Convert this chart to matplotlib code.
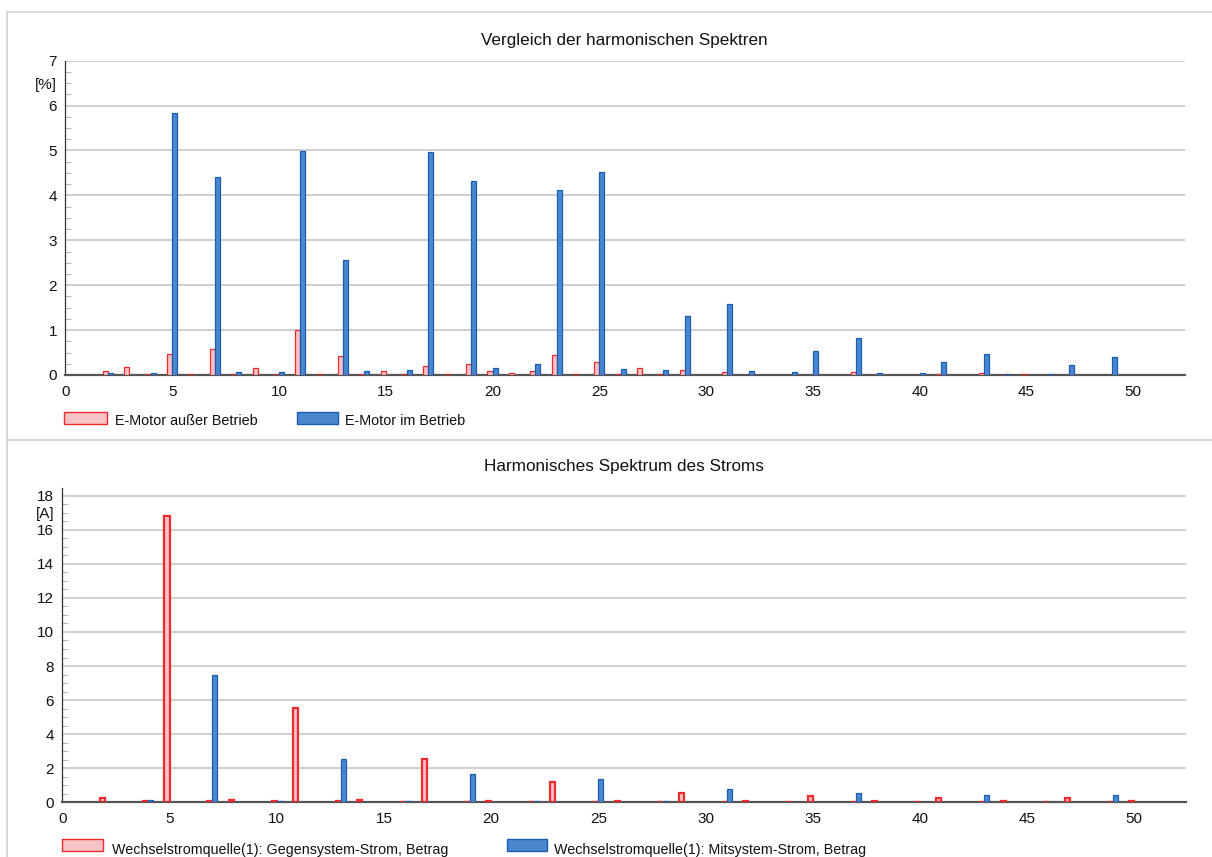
import matplotlib
matplotlib.use('Agg')
import matplotlib.pyplot as plt
import numpy as np
from matplotlib.patches import Rectangle
from matplotlib.lines import Line2D

plt.rcParams['font.family'] = ['Liberation Sans', 'DejaVu Sans']

# ---------------- data ----------------
harmonics = list(range(2, 51))

# top chart: THD comparison [%]
motor_off = [0.09, 0.17, 0.03, 0.46, 0.02, 0.59, 0.03, 0.16, 0.03, 1.01,
             0.02, 0.42, 0.02, 0.10, 0.02, 0.20, 0.015, 0.24, 0.09, 0.05,
             0.09, 0.44, 0.02, 0.29, 0.02, 0.16, 0.02, 0.11, 0.01, 0.07,
             0.01, 0.01, 0.01, 0.01, 0.01, 0.07, 0.01, 0.01, 0.01, 0.02,
             0.01, 0.04, 0.01, 0.02, 0.01, 0.01, 0.01, 0.01, 0.01]
motor_on = [0.04, 0.0, 0.04, 5.84, 0.0, 4.42, 0.07, 0.0, 0.07, 4.99,
            0.0, 2.57, 0.10, 0.0, 0.11, 4.96, 0.0, 4.33, 0.16, 0.0,
            0.24, 4.11, 0.0, 4.53, 0.14, 0.0, 0.11, 1.31, 0.0, 1.59,
            0.08, 0.0, 0.07, 0.53, 0.0, 0.83, 0.04, 0.0, 0.04, 0.30,
            0.0, 0.47, 0.03, 0.0, 0.03, 0.23, 0.0, 0.40, 0.01]

# bottom chart: current spectrum [A]
neg_seq = [0.25, 0.0, 0.08, 16.82, 0.0, 0.05, 0.14, 0.0, 0.05, 5.52,
           0.0, 0.05, 0.12, 0.0, 0.04, 2.53, 0.0, 0.04, 0.10, 0.0,
           0.04, 1.22, 0.0, 0.04, 0.08, 0.0, 0.03, 0.57, 0.0, 0.04,
           0.08, 0.0, 0.04, 0.35, 0.0, 0.03, 0.07, 0.0, 0.04, 0.27,
           0.0, 0.03, 0.07, 0.0, 0.03, 0.25, 0.0, 0.04, 0.07]
pos_seq = [0.02, 0.0, 0.14, 0.02, 0.0, 7.50, 0.02, 0.0, 0.10, 0.02,
           0.0, 2.55, 0.02, 0.0, 0.06, 0.02, 0.0, 1.67, 0.02, 0.0,
           0.06, 0.02, 0.0, 1.35, 0.02, 0.0, 0.05, 0.02, 0.0, 0.76,
           0.02, 0.0, 0.04, 0.02, 0.0, 0.55, 0.02, 0.0, 0.03, 0.02,
           0.0, 0.45, 0.02, 0.0, 0.03, 0.02, 0.0, 0.43, 0.02]

title_top = "Vergleich der harmonischen Spektren"
title_bot = "Harmonisches Spektrum des Stroms"
legend_top = ["E-Motor außer Betrieb", "E-Motor im Betrieb"]
legend_bot = ["Wechselstromquelle(1): Gegensystem-Strom, Betrag",
              "Wechselstromquelle(1): Mitsystem-Strom, Betrag"]
x_ticks = [0, 5, 10, 15, 20, 25, 30, 35, 40, 45, 50]

# ---------------- style ----------------
PINK = '#f8c3c6'
RED = '#ee2a2f'
BLUE = '#4a87cf'
BLUE_E = '#1b5cb5'
GRID = '#cccccc'
FS = 11

W, H = 1212, 857
fig = plt.figure(figsize=(W / 100, H / 100), dpi=100)


def fx(x):
    return x / W


def fy(y):
    return 1 - y / H


ax1 = fig.add_axes([fx(65.3), fy(375), (1185 - 65.3) / W, (375 - 60.7) / H])
ax2 = fig.add_axes([fx(62.3), fy(802.3), (1186 - 62.3) / W, (802.3 - 488) / H])

BW = 0.235


def draw_bars(ax, vals, side, face, edge, lw):
    h = np.array(harmonics, dtype=float)
    v = np.array(vals, dtype=float)
    m = v > 0
    x = h[m] - BW if side == 'left' else h[m]
    ax.bar(x, v[m], width=BW, align='edge', color=face,
           edgecolor=edge, linewidth=lw, zorder=5)


draw_bars(ax1, motor_off, 'left', PINK, RED, 0.9)
draw_bars(ax1, motor_on, 'right', BLUE, BLUE_E, 0.9)
draw_bars(ax2, neg_seq, 'left', PINK, RED, 1.6)
draw_bars(ax2, pos_seq, 'right', BLUE, BLUE_E, 0.9)

ax1.set_xlim(0, 52.42)
ax1.set_ylim(0, 7)
ax1.set_yticks(range(0, 8))
ax1.set_yticks(np.arange(0, 7.01, 0.25), minor=True)

ax2.set_xlim(0, 52.41)
ax2.set_ylim(0, 18.45)
ax2.set_yticks(range(0, 19, 2))
ax2.set_yticks(np.arange(0, 18.01, 0.5), minor=True)

for ax in (ax1, ax2):
    ax.set_xticks(x_ticks)
    ax.spines['top'].set_visible(False)
    ax.spines['right'].set_visible(False)
    ax.spines['left'].set_color('#333333')
    ax.spines['left'].set_linewidth(0.9)
    ax.spines['bottom'].set_color('#555555')
    ax.spines['bottom'].set_linewidth(1.6)
    ax.spines['bottom'].set_zorder(4)
    ax.grid(axis='y', which='major', color=GRID, linewidth=1.3, zorder=0)
    ax.set_axisbelow(True)
    ax.tick_params(axis='x', length=0, pad=7, labelsize=FS, colors='#111111')
    ax.tick_params(axis='y', which='major', length=0, pad=6, labelsize=FS,
                   colors='#111111')
    ax.tick_params(axis='y', which='minor', direction='in', length=4.5,
                   width=0.8, color='#bbbbbb')

ax1.annotate('[%]', xy=(0, 6.45), xycoords=('axes fraction', 'data'),
             xytext=(-8, 0), textcoords='offset pixels', ha='right',
             va='center', fontsize=FS, color='#111111')
ax2.annotate('[A]', xy=(0, 16.9), xycoords=('axes fraction', 'data'),
             xytext=(-8, 0), textcoords='offset pixels', ha='right',
             va='center', fontsize=FS, color='#111111')

fig.text(fx(624), fy(40), title_top, ha='center', va='center',
         fontsize=12.3, color='#111111')
fig.text(fx(624), fy(466), title_bot, ha='center', va='center',
         fontsize=12.3, color='#111111')


def legend_item(x0, y0, x1, y1, face, edge, tx, ty, label, fs):
    fig.add_artist(Rectangle((fx(x0), fy(y1)), fx(x1 - x0), (y1 - y0) / H,
                             transform=fig.transFigure, facecolor=face,
                             edgecolor=edge, linewidth=1.0))
    fig.text(fx(tx), fy(ty), label, ha='left', va='center', fontsize=fs,
             color='#111111')


legend_item(64, 412, 107, 424, PINK, RED, 115, 421, legend_top[0], 10.4)
legend_item(297, 412, 338, 424, BLUE, BLUE_E, 345, 421, legend_top[1], 10.4)
legend_item(62, 839, 103, 851, PINK, RED, 112, 850, legend_bot[0], 10.3)
legend_item(507, 839, 547, 851, BLUE, BLUE_E, 554, 850, legend_bot[1], 10.3)

# panel frame lines
BORDER = '#d6d6d6'
fig.add_artist(Line2D([fx(7), 1], [fy(12), fy(12)], transform=fig.transFigure,
                      color=BORDER, linewidth=1.3))
fig.add_artist(Line2D([fx(7), fx(7)], [fy(12), 0], transform=fig.transFigure,
                      color=BORDER, linewidth=1.3))
fig.add_artist(Line2D([fx(7), 1], [fy(439.5), fy(439.5)],
                      transform=fig.transFigure, color=BORDER, linewidth=1.3))

fig.savefig('out.png', dpi=100, facecolor='white')
